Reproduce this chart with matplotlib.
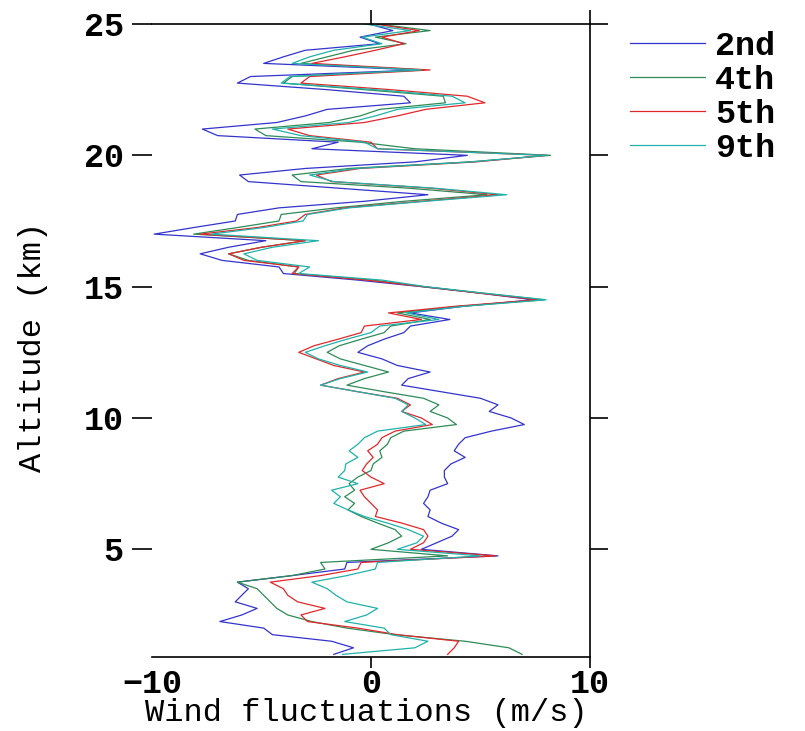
import matplotlib.pyplot as plt

# Courier-like bold mono font for all text
plt.rcParams['font.family'] = ['Liberation Mono', 'DejaVu Sans Mono']
plt.rcParams['font.weight'] = 'bold'

# altitude (km), every 0.25 km
altitude = [1.0, 1.25, 1.5, 1.75, 2.0, 2.25, 2.5, 2.75, 3.0, 3.25, 3.5, 3.75,
            4.0, 4.25, 4.5, 4.75, 5.0, 5.25, 5.5, 5.75, 6.0, 6.25, 6.5, 6.75,
            7.0, 7.25, 7.5, 7.75, 8.0, 8.25, 8.5, 8.75, 9.0, 9.25, 9.5, 9.75,
            10.0, 10.25, 10.5, 10.75, 11.0, 11.25, 11.5, 11.75, 12.0, 12.25, 12.5, 12.75,
            13.0, 13.25, 13.5, 13.75, 14.0, 14.25, 14.5, 14.75, 15.0, 15.25, 15.5, 15.75,
            16.0, 16.25, 16.5, 16.75, 17.0, 17.25, 17.5, 17.75, 18.0, 18.25, 18.5, 18.75,
            19.0, 19.25, 19.5, 19.75, 20.0, 20.25, 20.5, 20.75, 21.0, 21.25, 21.5, 21.75,
            22.0, 22.25, 22.5, 22.75, 23.0, 23.25, 23.5, 23.75, 24.0, 24.25, 24.5, 24.75,
            25.0]

# wind fluctuations (m/s)
wind_2nd = [-1.7, -0.8, -1.8, -4.5, -4.9, -6.9, -5.9, -5.2, -6.2, -5.9, -5.6, -6.1,
            -3.6, -1.2, -1.1, 5.8, 2.3, 3.0, 3.7, 4.0, 3.2, 2.6, 2.7, 2.4,
            2.6, 2.7, 3.5, 3.35, 3.35, 3.65, 4.3, 3.8, 4.0, 4.3, 5.5, 7.0,
            6.4, 5.4, 5.8, 5.0, 3.2, 1.4, 1.7, 2.7, 1.2, 0.5, -0.6, -0.15,
            0.6, 1.5, 1.8, 3.6, 1.8, 4.2, 7.4, 5.0, 2.3, -0.6, -4.0, -4.2,
            -6.8, -7.8, -6.5, -4.8, -9.9, -8.1, -6.2, -6.1, -4.2, -0.3, 2.6, -1.5,
            -5.6, -6.0, -3.0, 2.0, 4.4, -2.7, -1.5, -7.0, -7.7, -4.3, -3.0, -2.0,
            1.8, 1.5, -2.0, -6.1, -5.5, 2.2, -4.9, -4.0, -3.0, 0.4, -0.5, 1.0,
            -0.1]
wind_4th = [6.9, 6.3, 4.3, 1.1, -1.1, -2.7, -3.8, -4.3, -4.6, -4.9, -5.2, -6.1,
            -3.6, -2.1, -2.3, 3.5, 0.0, 0.8, 1.4, 1.1, 0.3, -0.45, -1.05, -0.75,
            -1.2, -0.75, -1.0, -0.6, 0.0, 0.1, 0.5, 0.4, 0.75, 0.9, 1.5, 3.9,
            3.5, 2.7, 3.1, 2.4, 0.6, -1.1, -0.3, 0.8, -0.3, -1.4, -2.0, -1.45,
            -0.45, 0.6, 0.9, 2.7, 1.2, 4.0, 7.9, 5.1, 2.4, 0.1, -3.5, -3.3,
            -5.6, -6.5, -5.0, -3.0, -8.1, -6.1, -4.2, -4.1, -1.6, 1.5, 5.3, 1.7,
            -3.2, -3.6, -1.0, 4.5, 8.2, 2.0, -0.5, -4.8, -5.3, -1.9, -0.5, 0.4,
            3.4, 3.3, -0.3, -4.0, -3.6, 2.4, -3.2, -2.0, -0.8, 1.6, 0.2, 2.7,
            0.3]
wind_5th = [3.5, 3.8, 4.0, 1.2, -0.6, -2.9, -3.2, -2.1, -3.35, -3.8, -4.0, -4.6,
            -2.3, -0.6, -0.45, 5.7, 1.8, 2.4, 2.6, 2.4, 1.4, 0.2, 0.3, 0.0,
            -0.3, -0.5, 0.6, 0.0, -0.4, -0.2, 0.1, -0.15, 0.3, 0.5, 1.1, 2.8,
            2.3, 1.4, 1.8, 1.2, -0.6, -2.3, -1.5, -0.3, -1.7, -2.5, -3.3, -2.6,
            -1.5, -0.45, -0.3, 2.3, 0.8, 3.8, 7.6, 5.0, 2.4, -0.2, -3.6, -3.3,
            -5.8, -6.5, -5.0, -3.0, -7.8, -5.2, -3.4, -3.0, -1.2, 2.3, 5.8, 2.7,
            -1.8, -2.5, -0.5, 4.8, 8.0, 0.3, 0.0, -2.8, -3.8, -0.3, 1.2, 2.5,
            5.2, 4.4, 0.9, -3.2, -2.8, 2.7, -2.7, -1.2, 0.2, 1.5, 0.5, 2.2,
            0.2]
wind_9th = [-1.3, 2.0, 2.6, 0.9, 0.6, -1.2, -0.2, 0.3, -1.1, -1.6, -2.0, -2.7,
            -1.1, 0.2, 0.3, 5.0, 1.2, 2.1, 2.4, 1.7, 0.75, -0.3, -1.05, -1.7,
            -1.4, -1.8, -0.6, -1.5, -1.2, -1.15, -0.6, -1.0, -0.6, -0.3, 0.3, 2.5,
            2.0, 1.4, 1.7, 1.1, -0.6, -2.3, -1.4, -0.15, -1.4, -2.4, -3.0, -2.1,
            -1.1, 0.0, 0.4, 3.1, 1.6, 4.2, 8.0, 5.2, 2.5, 0.5, -3.3, -2.8,
            -5.2, -5.8, -4.5, -2.4, -7.3, -4.9, -3.1, -2.9, -1.0, 2.5, 6.2, 2.9,
            -1.7, -2.8, -0.7, 4.6, 8.0, 0.3, -0.3, -3.2, -4.5, -1.0, 0.2, 1.2,
            4.3, 3.7, 0.2, -4.1, -3.7, 2.3, -3.6, -2.8, -1.7, 0.5, -0.4, 1.8,
            -0.3]

series = [wind_2nd, wind_4th, wind_5th, wind_9th]
labels = ['2nd', '4th', '5th', '9th']
colors = ['#3434cc', '#2e8b57', '#e0282c', '#20b2aa']

fig = plt.figure(figsize=(8.05, 7.31), dpi=100)
ax = fig.add_axes([152 / 805, 1 - 657 / 731, 438 / 805, 633 / 731])

for vals, lab, col in zip(series, labels, colors):
    ax.plot(vals, altitude, color=col, lw=0.9, label=lab)

ax.set_xlim(-10, 10)
ax.set_ylim(0.9, 25)
ax.set_xticks([-10, 0, 10])
ax.set_yticks([5, 10, 15, 20, 25])

ax.spines['left'].set_visible(False)
for s in ['top', 'right', 'bottom']:
    ax.spines[s].set_linewidth(1.2)

ax.tick_params(axis='x', direction='out', top=True, bottom=True,
               length=8, width=1.2, labelsize=24, pad=0.5)
ax.tick_params(axis='y', direction='out', left=True, right=True,
               length=14.5, width=1.2, labelsize=24, pad=6)
for t in ax.yaxis.get_major_ticks():
    t.tick2line.set_markersize(13)
xt = ax.xaxis.get_major_ticks()
for t in xt:
    t.tick2line.set_markersize(10)
# no tick marks at -10 (no left spine)
xt[0].tick1line.set_visible(False)
xt[0].tick2line.set_visible(False)

ax.set_xlabel('Wind fluctuations (m/s)', fontsize=23)
ax.xaxis.set_label_coords(0.49, -0.065)
ax.set_ylabel('Altitude (km)', fontsize=23, va='center')
ax.yaxis.set_label_coords(-0.272, 0.49)

fig.legend(loc='upper left', bbox_to_anchor=(630 / 805, 1 - 31 / 731),
           frameon=False, fontsize=24, handlelength=2.25, handletextpad=0.3,
           labelspacing=0.09, borderpad=0, borderaxespad=0)

fig.savefig('out.png', dpi=100)
